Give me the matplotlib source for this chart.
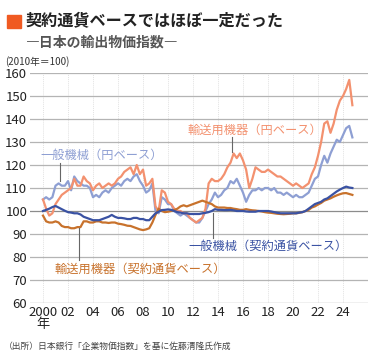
import numpy as np
import matplotlib
matplotlib.use("Agg")
import matplotlib.pyplot as plt
from matplotlib.patches import Rectangle

plt.rcParams['font.family'] = ['Noto Sans CJK JP', 'DejaVu Sans']

# quarterly values, 2000Q1 .. 2024Q4 (2010 = 100)
years = np.arange(2000, 2025, 0.25)

gm_yen = [105, 106, 105, 106, 111, 112, 111, 111, 113, 109, 115, 113,
          112, 111, 111, 110, 106, 107, 106, 108, 109, 108, 110, 111,
          112, 111, 113, 114, 113, 115, 116, 113, 111, 108, 109, 112,
          100, 99, 106, 105, 103, 103, 100, 99, 98, 99, 98, 97,
          96, 95, 95, 97, 100, 103, 105, 108, 106, 107, 109, 110,
          113, 112, 114, 111, 108, 104, 107, 109, 109, 110, 109, 110,
          110, 109, 110, 108, 108, 107, 108, 107, 106, 107, 106, 106,
          107, 108, 111, 114, 115, 120, 124, 121, 125, 128, 131, 130,
          133, 136, 137, 132]

tr_yen = [105, 101, 98, 99, 103, 105, 107, 108, 109, 110, 114, 111,
          111, 115, 113, 112, 109, 111, 112, 110, 111, 112, 111, 112,
          114, 115, 117, 118, 119, 116, 120, 116, 118, 111, 112, 114,
          102, 100, 109, 108, 104, 103, 101, 100, 100, 99, 99, 97,
          96, 95, 96, 97, 101, 112, 114, 113, 113, 114, 116, 119,
          121, 125, 123, 125, 122, 118, 110, 114, 119, 118, 117, 117,
          118, 117, 116, 115, 115, 114, 113, 112, 111, 112, 111, 110,
          111, 112, 116, 119, 124, 130, 138, 139, 134, 138, 144, 148,
          150, 153, 157, 146]

gm_ctr = [100, 100.5, 101, 101.7, 102.2, 101.5, 100.8, 100.1, 99.5, 99.3, 99, 99,
          98.5, 97.5, 97, 96.5, 96, 96, 96, 96.5, 97, 97.5, 98.3, 97.5,
          97, 97, 96.8, 96.5, 96.5, 97, 97, 96.5, 96.5, 96, 96, 97.5,
          99, 99.7, 100.4, 100.5, 100.7, 100.5, 100, 99.5, 99.3, 99, 99, 98.7,
          98.7, 98.7, 98.7, 99, 99.2, 99.5, 100, 100.8, 100.5, 100.5, 100.4, 100.4,
          100.5, 100.3, 100, 100, 100, 99.8, 99.7, 99.7, 99.7, 100, 100, 100,
          100, 99.8, 99.5, 99.2, 99, 99, 99, 99, 99, 99, 99.3, 99.5,
          100, 101, 102, 103, 103.5, 104, 105, 105.5, 106.5, 107.5, 108.5, 109.3,
          110, 110.6, 110.2, 110]

tr_ctr = [98, 95.5, 95, 95, 95.5, 95, 93.5, 93, 93, 92.5, 92.5, 93,
          93, 95.5, 95.5, 95, 95, 95.5, 95.5, 95, 95, 94.8, 95, 95,
          94.5, 94.3, 94, 93.6, 93.5, 93, 92.5, 92, 91.7, 92, 92.5, 95,
          98.3, 101, 100, 99.5, 99.7, 100, 100.4, 101, 102, 102.5, 102, 102.5,
          103, 103.5, 104, 104.5, 104, 103.5, 103, 102, 101.5, 101.5, 101.5, 101.3,
          101.3, 101, 100.8, 100.5, 100.5, 100.8, 100.5, 100.3, 100.2, 100, 99.8, 99.5,
          99.3, 99.2, 99, 98.8, 98.7, 98.6, 98.7, 98.8, 99, 99, 99.2, 99.5,
          100, 100.5, 101.5, 102, 102.8, 103.5, 104.5, 105, 105.5, 106.2, 106.8, 107.3,
          107.7, 107.8, 107.4, 107]

xticks = list(range(2000, 2025, 2))
xlabels = ["2000\n年"] + ["%02d" % (y % 100) for y in xticks[1:]]
yticks = list(range(60, 161, 10))

c_gm_yen = "#8e9fd3"
c_tr_yen = "#f3916f"
c_gm_ctr = "#3a52a3"
c_tr_ctr = "#c8722c"

fig = plt.figure(figsize=(3.75, 3.63), dpi=100)
ax = fig.add_axes([30 / 375, 60 / 363, 338 / 375, 230 / 363])

for y in yticks:
    col = "#8c8c8c" if y in (60, 100) else "#b4b4b4"
    ax.axhline(y, color=col, lw=0.9, zorder=1)
for x in xticks:
    ax.axvline(x, color="#e2e2e2", lw=0.7, ls=(0, (1, 1)), zorder=0)

ax.plot(years, gm_yen, color=c_gm_yen, lw=1.6, zorder=3)
ax.plot(years, tr_yen, color=c_tr_yen, lw=1.6, zorder=3)
ax.plot(years, tr_ctr, color=c_tr_ctr, lw=1.6, zorder=4)
ax.plot(years, gm_ctr, color=c_gm_ctr, lw=1.6, zorder=5)

ax.set_xlim(1998.96, 2026.0)
ax.set_ylim(60, 160)
ax.set_xticks(xticks)
ax.set_xticklabels(xlabels, fontsize=9.5, color="#222222", linespacing=0.95)
ax.set_yticks(yticks)
ax.set_yticklabels([str(v) for v in yticks], fontsize=9.5, color="#222222")
ax.tick_params(length=0, pad=2)
for s in ax.spines.values():
    s.set_visible(False)

# labels with leader lines
ax.text(1999.76, 124.3, "一般機械（円ベース）", color=c_gm_yen, fontsize=8.8, va="center")
ax.plot([2001.36, 2001.36], [121, 113], color="#666666", lw=0.8, zorder=6)

ax.text(2011.6, 135.2, "輸送用機器（円ベース）", color=c_tr_yen, fontsize=8.8, va="center")
ax.plot([2015.12, 2015.12], [132, 125.5], color="#666666", lw=0.8, zorder=6)

ax.text(2000.96, 74.8, "輸送用機器（契約通貨ベース）", color=c_tr_ctr, fontsize=8.8, va="center")
ax.plot([2002.88, 2002.88], [92.6, 78.5], color="#666666", lw=0.8, zorder=6)

ax.text(2011.6, 84.8, "一般機械（契約通貨ベース）", color=c_gm_ctr, fontsize=8.8, va="center")
ax.plot([2013.6, 2013.6], [99.1, 88.3], color="#666666", lw=0.8, zorder=6)

# title block
fig.patches.append(Rectangle((7 / 375, 1 - 28 / 363), 14 / 375, 13 / 363,
                             transform=fig.transFigure, color="#f05a22"))
fig.text(26 / 375, 1 - 21.5 / 363, "契約通貨ベースではほぼ一定だった",
         fontsize=11.6, fontweight="bold", color="#222222", va="center")
fig.text(26 / 375, 1 - 43 / 363, "―日本の輸出物価指数―",
         fontsize=10, fontweight="bold", color="#555555", va="center")
fig.text(5 / 375, 1 - 62 / 363, "(2010年＝100)", fontsize=7, color="#333333", va="center")
fig.text(4 / 375, 1 - 346 / 363, "（出所）日本銀行「企業物価指数」を基に佐藤清隆氏作成",
         fontsize=6.3, color="#444444", va="center")

fig.savefig("out.png", dpi=100)
